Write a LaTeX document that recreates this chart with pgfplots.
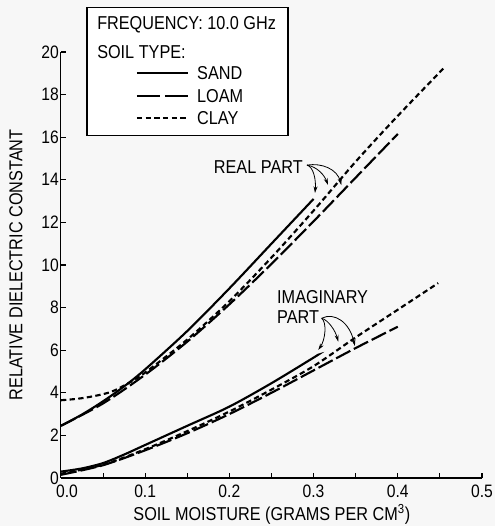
\documentclass[border=0pt]{standalone}
\usepackage{fontspec}
\setmainfont{Liberation Sans}[FakeStretch=0.87]
\usepackage{pgfplots}
\pgfplotsset{compat=1.18}
\usetikzlibrary{arrows.meta,backgrounds}
\newcommand{\lf}{\fontsize{14}{16}\selectfont}
\newcommand{\tf}{\fontsize{13.5}{15}\selectfont}
\begin{document}
\begin{tikzpicture}
\begin{axis}[
  scale only axis, width=315.75pt, height=319.5pt,
  xmin=0, xmax=0.5, ymin=0, ymax=20,
  axis x line=bottom, axis y line=left,
  axis line style={-, line width=0.8pt},
  every outer x axis line/.append style={-},
  every outer y axis line/.append style={-},
  xtick={0,0.1,0.2,0.3,0.4,0.5},
  xticklabels={\hspace*{9pt}0.0,0.1,0.2,0.3,0.4,0.5},
  minor xtick={0.05,0.15,0.25,0.35,0.45},
  ytick={0,2,4,6,8,10,12,14,16,18,20},
  tick align=inside, major tick length=4pt, minor tick length=4pt,
  tick style={line width=0.8pt, black},
  /pgf/number format/assume math mode=true,
  tick label style={font=\tf},
  xticklabel style={inner ysep=0pt, yshift=-5pt},
  yticklabel style={xshift=2pt},
  label style={font=\lf},
  xlabel={SOIL MOISTURE (GRAMS PER CM\textsuperscript{3})},
  ylabel={RELATIVE DIELECTRIC CONSTANT},
  xlabel style={at={(axis description cs:0.501,-0.086)}, anchor=center, inner sep=0pt},
  ylabel style={at={(axis description cs:-0.107,0.5)}, anchor=center},
  clip=false,
]
% ---- real part ----
\addplot[black, line width=1.6pt, smooth] coordinates {
 (0,2.45) (0.025,2.98) (0.05,3.6) (0.075,4.3) (0.1,5.1) (0.15,6.9) (0.2,8.9) (0.25,11.0) (0.3,13.1)};
\addplot[black, line width=1.6pt, smooth, dash pattern=on 12pt off 3pt] coordinates {
 (0,2.45) (0.05,3.5) (0.1,4.85) (0.15,6.4) (0.2,8.15) (0.25,10.05) (0.3,12.05) (0.35,14.1) (0.4,16.15)};
\addplot[black, line width=1.6pt, smooth, dash pattern=on 4pt off 2.5pt] coordinates {
 (0,3.65) (0.02,3.72) (0.04,3.85) (0.06,4.05) (0.08,4.45) (0.1,4.95) (0.15,6.5) (0.2,8.3) (0.25,10.35) (0.3,12.55) (0.35,14.85) (0.4,17.0) (0.456,19.3)};
% ---- imaginary part ----
\addplot[black, line width=1.6pt, smooth] coordinates {
 (0,0.3) (0.025,0.45) (0.05,0.7) (0.075,1.1) (0.1,1.55) (0.15,2.45) (0.2,3.35) (0.25,4.45) (0.3,5.65) (0.305,5.78)};
\addplot[black, line width=1.6pt, smooth, dash pattern=on 12pt off 3pt] coordinates {
 (0,0.15) (0.05,0.6) (0.1,1.3) (0.15,2.1) (0.2,3.0) (0.25,4.0) (0.3,5.05) (0.35,6.1) (0.4,7.1)};
\addplot[black, line width=1.6pt, smooth, dash pattern=on 4pt off 2.5pt] coordinates {
 (0,0.2) (0.05,0.62) (0.1,1.35) (0.15,2.2) (0.2,3.12) (0.25,4.15) (0.3,5.25) (0.35,6.6) (0.4,7.9) (0.448,9.15)};
% ---- annotations ----
\node[anchor=east, inner sep=0pt, font=\lf] at (axis cs:0.2874,14.6) {REAL PART};
\draw[-{Stealth[length=5pt,width=3pt]}, line width=0.6pt] (axis cs:0.2922,14.69) .. controls (axis cs:0.300,14.6) and (axis cs:0.303,14.0) .. (axis cs:0.3017,13.38);
\draw[-{Stealth[length=5pt,width=3pt]}, line width=0.6pt] (axis cs:0.2922,14.69) .. controls (axis cs:0.305,14.6) and (axis cs:0.313,14.2) .. (axis cs:0.3171,13.76);
\draw[-{Stealth[length=5pt,width=3pt]}, line width=0.6pt] (axis cs:0.2922,14.69) .. controls (axis cs:0.31,14.8) and (axis cs:0.328,14.5) .. (axis cs:0.333,13.75);
\node[anchor=west, inner sep=0pt, font=\lf] at (axis cs:0.2565,8.50) {IMAGINARY};
\node[anchor=west, inner sep=0pt, font=\lf] at (axis cs:0.2565,7.56) {PART};
\draw[-{Stealth[length=5pt,width=3pt]}, line width=0.6pt] (axis cs:0.3096,7.50) .. controls (axis cs:0.316,7.3) and (axis cs:0.314,6.5) .. (axis cs:0.3056,6.01);
\draw[-{Stealth[length=5pt,width=3pt]}, line width=0.6pt] (axis cs:0.3096,7.50) .. controls (axis cs:0.318,7.4) and (axis cs:0.326,6.9) .. (axis cs:0.3293,6.40);
\draw[-{Stealth[length=5pt,width=3pt]}, line width=0.6pt] (axis cs:0.3096,7.50) .. controls (axis cs:0.325,7.8) and (axis cs:0.343,7.3) .. (axis cs:0.349,6.2);
% ---- legend box ----
\draw[line width=0.8pt, fill=white] (axis cs:0.0309,22.07) rectangle (axis cs:0.2696,16.06);
\node[anchor=west, inner sep=0pt, font=\lf] at (axis cs:0.0428,21.27) {FREQUENCY: 10.0 GHz};
\node[anchor=west, inner sep=0pt, font=\lf] at (axis cs:0.0428,20.0) {SOIL TYPE:};
\draw[line width=1.6pt] (axis cs:0.0903,19.01) -- (axis cs:0.1508,19.01);
\draw[line width=1.6pt, dash pattern=on 17pt off 4pt] (axis cs:0.0903,17.93) -- (axis cs:0.1508,17.93);
\draw[line width=1.6pt, dash pattern=on 4pt off 2.5pt] (axis cs:0.0903,16.90) -- (axis cs:0.1508,16.90);
\node[anchor=west, inner sep=0pt, font=\lf] at (axis cs:0.1615,19.01) {SAND};
\node[anchor=west, inner sep=0pt, font=\lf] at (axis cs:0.1615,17.93) {LOAM};
\node[anchor=west, inner sep=0pt, font=\lf] at (axis cs:0.1615,16.90) {CLAY};
\coordinate (BL) at (axis cs:-0.0724,-2.254);
\coordinate (TR) at (axis cs:0.5154,22.44);
\end{axis}
\begin{scope}[on background layer]
\fill[white!97!black] (BL) rectangle (TR);
\end{scope}
\pgfresetboundingbox
\path[use as bounding box] (BL) rectangle (TR);
\end{tikzpicture}
\end{document}
